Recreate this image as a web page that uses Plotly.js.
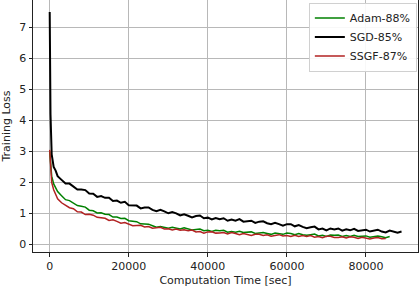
<!DOCTYPE html>
<html><head><meta charset="utf-8">
<script src="https://cdn.plot.ly/plotly-3.0.1.min.js"></script>
<style>html,body{margin:0;padding:0;background:#fff}#c{width:420px;height:288px}</style>
</head><body><div id="c"></div>
<script>
var sgdT = [0,200,500,1000,1500,2000,3000,4000,5000,6000,7000,8000,9000,10000,11000,12000,13000,14000,15000,16000,17000,18000,19000,20000,21000,22000,23000,24000,25000,26000,27000,28000,29000,30000,31000,32000,33000,34000,35000,36000,37000,38000,39000,40000,41000,42000,43000,44000,45000,46000,47000,48000,49000,50000,51000,52000,53000,54000,55000,56000,57000,58000,59000,60000,61000,62000,63000,64000,65000,66000,67000,68000,69000,70000,71000,72000,73000,74000,75000,76000,77000,78000,79000,80000,81000,82000,83000,84000,85000,86000,87000,88000,89000];
var sgdLoss = [7.5,4.2,2.9,2.5,2.38,2.2,
  2.08,1.96,1.96,1.86,1.77,1.77,1.75,1.64,1.63,1.53,1.56,1.50,1.50,1.40,1.41,1.34,1.37,1.26,1.25,1.25,1.16,1.19,1.19,1.11,1.07,1.11,1.06,1.00,1.04,
  1.00,0.93,0.97,0.92,0.87,0.91,0.93,0.84,0.86,0.80,0.85,0.81,0.84,0.76,0.80,0.76,0.81,0.73,0.74,0.76,0.69,0.73,0.74,0.68,0.65,0.69,0.65,0.60,0.65,
  0.65,0.58,0.62,0.56,0.52,0.55,0.57,0.48,0.51,0.45,0.51,0.48,0.51,0.44,0.48,0.45,0.50,0.43,0.44,0.47,0.41,0.45,0.47,0.41,0.38,0.44,0.41,0.37,0.41];

var adamT = [0,200,500,1000,1500,2000,3000,4000,5000,6000,7000,8000,9000,10000,11000,12000,13000,14000,15000,16000,17000,18000,19000,20000,21000,22000,23000,24000,25000,26000,27000,28000,29000,30000,31000,32000,33000,34000,35000,36000,37000,38000,39000,40000,41000,42000,43000,44000,45000,46000,47000,48000,49000,50000,51000,52000,53000,54000,55000,56000,57000,58000,59000,60000,61000,62000,63000,64000,65000,66000,67000,68000,69000,70000,71000,72000,73000,74000,75000,76000,77000,78000,79000,80000,81000,82000,83000,84000,85000,86000];
var adamLoss = [3.0,2.6,2.2,1.95,1.84,1.70,
  1.57,1.44,1.41,1.32,1.25,1.23,1.20,1.10,1.08,1.01,1.02,0.97,0.96,0.88,0.88,0.83,0.84,0.76,0.74,0.73,0.66,0.66,0.65,0.60,0.55,0.57,0.54,0.52,0.55,
  0.53,0.49,0.53,0.49,0.46,0.48,0.49,0.44,0.45,0.41,0.45,0.44,0.45,0.39,0.41,0.39,0.42,0.38,0.38,0.40,0.35,0.37,0.38,0.35,0.32,0.36,0.34,0.32,0.36,
  0.35,0.31,0.35,0.31,0.29,0.31,0.33,0.27,0.29,0.25,0.30,0.29,0.30,0.25,0.28,0.25,0.29,0.25,0.25,0.27,0.23,0.26,0.27,0.24,0.21,0.25];

var ssgfT = [0,200,500,1000,1500,2000,3000,4000,5000,6000,7000,8000,9000,10000,11000,12000,13000,14000,15000,16000,17000,18000,19000,20000,21000,22000,23000,24000,25000,26000,27000,28000,29000,30000,31000,32000,33000,34000,35000,36000,37000,38000,39000,40000,41000,42000,43000,44000,45000,46000,47000,48000,49000,50000,51000,52000,53000,54000,55000,56000,57000,58000,59000,60000,61000,62000,63000,64000,65000,66000,67000,68000,69000,70000,71000,72000,73000,74000,75000,76000,77000,78000,79000,80000,81000,82000,83000,84000,85000];
var ssgfLoss = [3.05,2.4,2.0,1.76,1.62,1.47,
  1.34,1.27,1.18,1.15,1.05,1.04,0.96,0.97,0.94,0.87,0.85,0.84,0.77,0.79,0.74,0.68,0.70,0.66,0.60,0.61,0.615,0.56,0.575,0.52,0.53,0.55,0.495,0.50,0.46,0.49,
  0.45,0.47,0.44,0.46,0.395,0.41,0.36,0.40,0.405,0.36,0.365,0.38,0.335,0.38,0.35,0.31,0.345,0.32,0.285,0.32,0.32,0.28,0.305,0.26,0.28,0.31,0.265,0.28,0.25,0.29,
  0.25,0.28,0.255,0.28,0.23,0.25,0.21,0.26,0.26,0.22,0.22,0.24,0.20,0.245,0.225,0.19,0.225,0.20,0.17,0.20,0.22,0.18,0.19];

var names = ['Adam-88%','SGD-85%','SSGF-87%'];
var xTicks = [0,20000,40000,60000,80000];
var yTicks = [0,1,2,3,4,5,6,7];

var traces = [
  {x: adamT, y: adamLoss, name: names[0], mode:'lines', line:{color:'#008000', width:1.5}},
  {x: sgdT, y: sgdLoss, name: names[1], mode:'lines', line:{color:'#000000', width:2}},
  {x: ssgfT, y: ssgfLoss, name: names[2], mode:'lines', line:{color:'#b22222', width:1.5}}
];
var axisCommon = {
  showline:true, mirror:true, linecolor:'#222', linewidth:1,
  showgrid:true, gridcolor:'#b8b8b8', gridwidth:1, zeroline:false,
  ticks:'outside', ticklen:3.5, tickcolor:'#222',
  tickfont:{family:'DejaVu Sans', size:11, color:'#222'}
};
var layout = {
  width:420, height:288,
  margin:{l:33, r:2, t:0, b:36},
  paper_bgcolor:'#fff', plot_bgcolor:'#fff',
  showlegend:true,
  legend:{x:0.997, y:0.99, xanchor:'right', yanchor:'top', bgcolor:'rgba(255,255,255,0.9)',
          bordercolor:'#d0d0d0', borderwidth:1, font:{family:'DejaVu Sans', size:11, color:'#222'},
          tracegroupgap:0, itemwidth:30},
  xaxis: Object.assign({}, axisCommon, {range:[-4228,93165], tickvals:xTicks, tickformat:'d',
          title:{text:'Computation Time [sec]', font:{family:'DejaVu Sans', size:11, color:'#222'}, standoff:4}}),
  yaxis: Object.assign({}, axisCommon, {range:[-0.25,7.89], tickvals:yTicks,
          title:{text:'Training Loss', font:{family:'DejaVu Sans', size:11, color:'#222'}, standoff:6}})
};
Plotly.newPlot('c', traces, layout, {staticPlot:true, displayModeBar:false});
</script></body></html>
